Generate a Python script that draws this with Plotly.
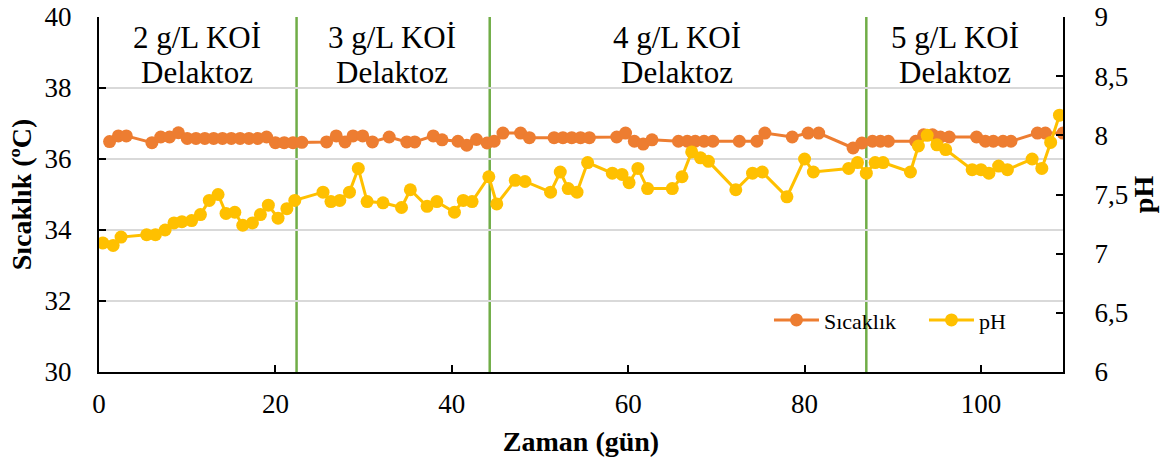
import plotly.graph_objects as go

# ---- data ----
temp_days = [1.2, 2.2, 3.1, 6.0, 7.0, 8.0, 9.0, 10.0, 11.0, 12.0, 13.0, 14.0, 15.0, 16.0, 17.0,
             18.0, 19.0, 20.0, 21.0, 22.0, 23.0, 25.8, 26.9, 27.9, 28.8, 29.9, 31.0, 32.9, 34.9,
             35.8, 37.9, 38.9, 40.7, 41.7, 42.8, 44.0, 44.8, 45.8, 47.8, 48.8, 51.6, 52.6, 53.6,
             54.6, 55.6, 58.7, 59.7, 60.7, 61.7, 62.7, 65.7, 66.7, 67.6, 68.6, 69.6, 72.6, 74.6,
             75.5, 78.6, 80.4, 81.6, 85.5, 86.5, 87.7, 88.6, 89.5, 92.6, 93.5, 94.5, 95.4, 96.4,
             99.5, 100.5, 101.4, 102.5, 103.4, 106.4, 107.3, 109.3]
temp_vals = [36.49, 36.65, 36.65, 36.46, 36.62, 36.62, 36.74, 36.58, 36.58, 36.58, 36.58, 36.58,
             36.58, 36.58, 36.58, 36.58, 36.62, 36.46, 36.46, 36.46, 36.47, 36.48, 36.65, 36.48,
             36.65, 36.65, 36.48, 36.62, 36.48, 36.48, 36.65, 36.54, 36.50, 36.39, 36.55, 36.45,
             36.50, 36.73, 36.73, 36.60, 36.60, 36.60, 36.60, 36.60, 36.60, 36.62, 36.73, 36.50,
             36.42, 36.54, 36.50, 36.50, 36.50, 36.50, 36.50, 36.50, 36.50, 36.73, 36.62, 36.73,
             36.73, 36.31, 36.45, 36.50, 36.50, 36.50, 36.50, 36.68, 36.68, 36.62, 36.62, 36.62,
             36.50, 36.50, 36.50, 36.50, 36.73, 36.73, 36.73]

ph_days = [0.45, 1.6, 2.5, 5.4, 6.4, 7.5, 8.5, 9.4, 10.5, 11.5, 12.5, 13.5, 14.4, 15.4, 16.3,
           17.4, 18.3, 19.2, 20.3, 21.3, 22.2, 25.4, 26.3, 27.3, 28.4, 29.4, 30.4, 32.2, 34.3,
           35.3, 37.2, 38.3, 40.3, 41.3, 42.3, 44.2, 45.1, 47.2, 48.3, 51.2, 52.3, 53.2, 54.2,
           55.4, 58.2, 59.3, 60.1, 61.1, 62.2, 65.0, 66.1, 67.2, 68.2, 69.1, 72.2, 74.1, 75.2,
           78.0, 80.0, 81.0, 85.0, 86.0, 87.0, 88.0, 88.9, 92.0, 92.9, 93.9, 95.0, 96.0, 99.0,
           100.0, 100.9, 102.0, 103.0, 105.8, 106.9, 107.9, 108.9]
ph_vals = [7.09, 7.07, 7.14, 7.16, 7.16, 7.20, 7.26, 7.27, 7.28, 7.33, 7.45, 7.50, 7.34, 7.35,
           7.24, 7.26, 7.33, 7.41, 7.30, 7.38, 7.45, 7.52, 7.44, 7.45, 7.52, 7.72, 7.44, 7.43,
           7.39, 7.54, 7.40, 7.44, 7.35, 7.45, 7.44, 7.65, 7.42, 7.62, 7.61, 7.52, 7.69, 7.55,
           7.52, 7.77, 7.68, 7.67, 7.60, 7.72, 7.55, 7.55, 7.65, 7.86, 7.81, 7.78, 7.54, 7.68,
           7.69, 7.48, 7.80, 7.69, 7.72, 7.77, 7.68, 7.77, 7.77, 7.69, 7.91, 8.00, 7.92, 7.88,
           7.71, 7.71, 7.68, 7.74, 7.71, 7.80, 7.72, 7.94, 8.17]

phase_bounds = [22.4, 44.3, 87.0]
phase_line1 = ["2 g/L KOİ", "3 g/L KOİ", "4 g/L KOİ", "5 g/L KOİ"]
phase_line2 = ["Delaktoz", "Delaktoz", "Delaktoz", "Delaktoz"]

x_ticks = [0, 20, 40, 60, 80, 100]
temp_ticks = [30, 32, 34, 36, 38, 40]
ph_ticks = [6, 6.5, 7, 7.5, 8, 8.5, 9]
ph_ticktext = ["6", "6,5", "7", "7,5", "8", "8,5", "9"]

ORANGE = "#ED7D31"
YELLOW = "#FFC000"
GREEN = "#70AD47"
FONT = "'Liberation Serif', 'Times New Roman', Times, serif"

# label box centres (layout, in x-axis units)
label_x = [11.1, 33.2, 65.5, 97.1]

fig = go.Figure()
fig.add_trace(go.Scatter(x=temp_days, y=temp_vals, name="Sıcaklık", mode="lines+markers",
                         line=dict(color=ORANGE, width=3),
                         marker=dict(color=ORANGE, size=13), yaxis="y"))
fig.add_trace(go.Scatter(x=ph_days, y=ph_vals, name="pH", mode="lines+markers",
                         line=dict(color=YELLOW, width=3),
                         marker=dict(color=YELLOW, size=13), yaxis="y2"))

for b in phase_bounds:
    fig.add_shape(type="line", xref="x", yref="paper", x0=b, x1=b, y0=0, y1=1,
                  line=dict(color=GREEN, width=2.5), layer="below")

for lx, l1, l2 in zip(label_x, phase_line1, phase_line2):
    fig.add_annotation(x=lx, y=0.941, xref="x", yref="paper", text=l1, showarrow=False,
                       yanchor="middle", font=dict(family=FONT, size=31, color="black"))
    fig.add_annotation(x=lx, y=0.845, xref="x", yref="paper", text=l2, showarrow=False,
                       yanchor="middle", font=dict(family=FONT, size=31, color="black"))

fig.update_layout(
    width=1169, height=465,
    margin=dict(l=99, r=106, t=17, b=93),
    paper_bgcolor="white", plot_bgcolor="white",
    font=dict(family=FONT, color="black"),
    showlegend=True,
    legend=dict(orientation="h", x=0.695, y=0.146, xanchor="left", yanchor="middle",
                font=dict(family=FONT, size=22, color="black"),
                bgcolor="rgba(0,0,0,0)", entrywidth=95, itemwidth=45),
    xaxis=dict(range=[0, 109.3], tickvals=x_ticks, ticks="inside", ticklen=7,
               tickwidth=1.5, tickcolor="black", showline=True, linecolor="black",
               linewidth=2, showgrid=False, zeroline=False, ticklabelstandoff=7,
               automargin=False, tickfont=dict(family=FONT, size=27),
               title=dict(text="<b>Zaman (gün)</b>", font=dict(family=FONT, size=28), standoff=13)),
    yaxis=dict(range=[30, 40], tickvals=temp_ticks, ticks="inside", ticklen=7,
               tickwidth=1.5, tickcolor="black", showline=True, linecolor="black",
               linewidth=2, showgrid=True, gridcolor="#D9D9D9", gridwidth=1.5,
               zeroline=False, ticklabelstandoff=20, automargin=False,
               tickfont=dict(family=FONT, size=27),
               title=dict(text="<b>Sıcaklık (ºC)</b>", font=dict(family=FONT, size=28), standoff=5)),
    yaxis2=dict(range=[6, 9], tickvals=ph_ticks, ticktext=ph_ticktext, overlaying="y",
                side="right", ticks="inside", ticklen=7, tickwidth=1.5, tickcolor="black",
                showline=True, linecolor="black", linewidth=2, showgrid=False,
                zeroline=False, ticklabelstandoff=24, automargin=False,
                tickfont=dict(family=FONT, size=27),
                title=dict(text="<b>pH</b>", font=dict(family=FONT, size=28), standoff=0)),
)

fig.write_html("out.html")
